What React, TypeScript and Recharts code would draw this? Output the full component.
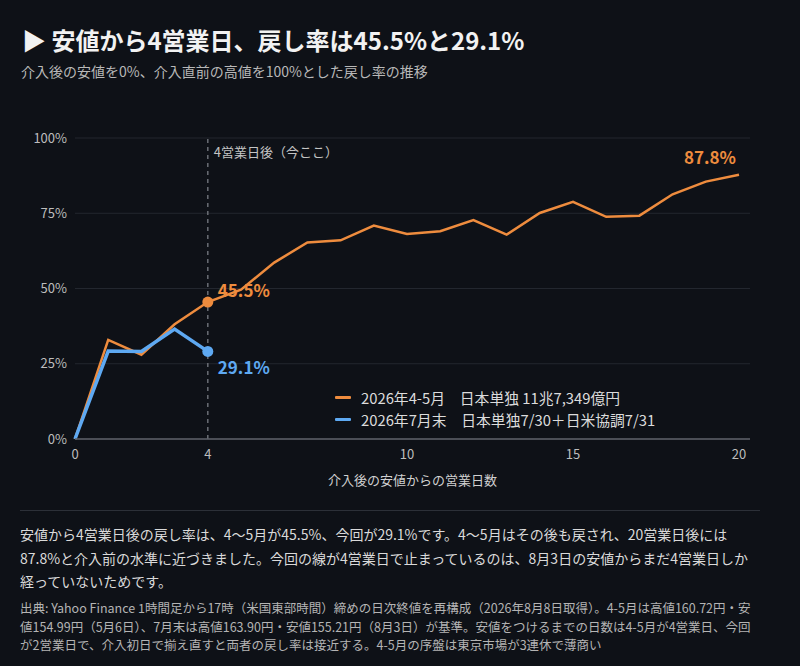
import React from 'react';
import {
  LineChart,
  Line,
  XAxis,
  YAxis,
  CartesianGrid,
  ReferenceLine,
  Legend,
  LabelList,
} from 'recharts';

// Business days since the post-intervention low
const days = [0, 1, 2, 3, 4, 5, 6, 7, 8, 9, 10, 11, 12, 13, 14, 15, 16, 17, 18, 19, 20];
// Retracement ratio (%), April-May 2026 intervention
const aprMay = [0, 32.9, 28.0, 38.1, 45.5, 49.6, 58.6, 65.3, 66.0, 70.9, 68.1, 69.0, 72.7, 67.9, 75.1, 78.8, 73.8, 74.2, 81.3, 85.5, 87.8];
// Retracement ratio (%), end of July 2026 intervention (only 4 days so far)
const julyEnd = [0, 29.2, 29.1, 36.5, 29.1];

const xTicks = [0, 4, 10, 15, 20];
const yTicks = [0, 25, 50, 75, 100];

const seriesNames = ['2026年4-5月　日本単独 11兆7,349億円', '2026年7月末　日本単独7/30＋日米協調7/31'];

const BG = '#0e1117';
const ORANGE = '#ee8c3e';
const BLUE = '#5ea9f2';
const FONT = "'Noto Sans CJK JP', 'Noto Sans', sans-serif";

const data = days.map((d, i) => ({
  day: d,
  aprMay: aprMay[i],
  julyEnd: i < julyEnd.length ? julyEnd[i] : null,
}));

function makeDot(color: string, r: number) {
  return (props: any) => {
    const { cx, cy, index, value } = props;
    if (index !== 4 || value == null || cx == null) return <g key={`e-${index}`} />;
    return <circle key={`d-${index}`} cx={cx} cy={cy} r={r} fill={color} stroke="none" />;
  };
}

function makeLabel(color: string, showAt: number[], below: boolean) {
  return (props: any) => {
    const { x, y, index, value } = props;
    if (!showAt.includes(index) || value == null) return null;
    const last = index === days.length - 1;
    return (
      <text
        x={last ? x - 3 : x + 10}
        y={last ? y - 18 : below ? y + 15 : y - 13}
        fill={color}
        fontSize={17}
        fontWeight={700}
        textAnchor={last ? 'end' : 'start'}
        dominantBaseline="central"
        fontFamily={FONT}
      >
        {`${Number(value).toFixed(1)}%`}
      </text>
    );
  };
}

function LegendBox(props: any) {
  const items = props.payload || [];
  return (
    <div style={{ fontFamily: FONT, fontSize: 14.8, color: '#dcdcdc', whiteSpace: 'nowrap' }}>
      {items.map((it: any) => (
        <div key={it.value} style={{ display: 'flex', alignItems: 'center', height: 22 }}>
          <span
            style={{ display: 'inline-block', width: 16, height: 3, background: it.color, borderRadius: 1, marginRight: 10 }}
          />
          <span>{it.value}</span>
        </div>
      ))}
    </div>
  );
}

export default function App() {
  return (
    <div style={{ position: 'relative', width: 800, height: 666, background: BG, fontFamily: FONT, overflow: 'hidden' }}>
      <style>{'body{margin:0;background:' + BG + '}'}</style>
      <div style={{ position: 'absolute', left: 22, top: 22, fontSize: 24, fontWeight: 700, color: '#f2f2f2', whiteSpace: 'nowrap' }}>
        ▶ 安値から4営業日、戻し率は45.5%と29.1%
      </div>
      <div style={{ position: 'absolute', left: 21, top: 61, fontSize: 14, color: '#b8b8b8', whiteSpace: 'nowrap' }}>
        介入後の安値を0%、介入直前の高値を100%とした戻し率の推移
      </div>

      <div style={{ position: 'absolute', left: 0, top: 0 }}>
        <LineChart width={800} height={500} data={data} margin={{ top: 138, right: 50, bottom: 11, left: 20 }}>
          <CartesianGrid vertical={false} stroke="#23272f" strokeWidth={1} />
          <XAxis
            dataKey="day"
            type="number"
            domain={[0, 20]}
            ticks={xTicks}
            padding={{ left: 0, right: 11 }}
            height={50}
            tickLine={false}
            tickMargin={5}
            axisLine={{ stroke: '#5c6068', strokeWidth: 1.5 }}
            tick={{ fontSize: 13, fill: '#bdbdbd', fontFamily: FONT }}
            label={{ value: '介入後の安値からの営業日数', position: 'insideBottom', offset: 4, fill: '#d0d0d0', fontSize: 13, fontFamily: FONT }}
          />
          <YAxis
            domain={[0, 100]}
            ticks={yTicks}
            width={55}
            tickLine={false}
            axisLine={false}
            tickFormatter={(v) => `${v}%`}
            tick={{ fontSize: 13, fill: '#bdbdbd', fontFamily: FONT }}
          />
          <ReferenceLine
            x={4}
            stroke="#6a6e75"
            strokeDasharray="4 4"
            strokeWidth={1.5}
            label={(p: any) => (
              <text
                x={p.viewBox.x + 6}
                y={p.viewBox.y + 13}
                fill="#c4c4c4"
                fontSize={13}
                fontFamily={FONT}
                dominantBaseline="central"
              >
                4営業日後（今ここ）
              </text>
            )}
          />
          <Legend
            layout="vertical"
            align="center"
            verticalAlign="middle"
            content={<LegendBox />}
            wrapperStyle={{ left: 335, top: 386, width: 'auto' }}
          />
          <Line
            dataKey="aprMay"
            name={seriesNames[0]}
            type="linear"
            stroke={ORANGE}
            strokeWidth={2.5}
            dot={makeDot(ORANGE, 5.5)}
            activeDot={false}
            isAnimationActive={false}
          >
            <LabelList dataKey="aprMay" content={makeLabel(ORANGE, [4, 20], false)} />
          </Line>
          <Line
            dataKey="julyEnd"
            name={seriesNames[1]}
            type="linear"
            stroke={BLUE}
            strokeWidth={3.5}
            dot={makeDot(BLUE, 5.5)}
            activeDot={false}
            connectNulls={false}
            isAnimationActive={false}
          >
            <LabelList dataKey="julyEnd" content={makeLabel(BLUE, [4], true)} />
          </Line>
        </LineChart>
      </div>

      <div style={{ position: 'absolute', left: 20, top: 510, width: 740, height: 1, background: '#2c3038' }} />
      <div style={{ position: 'absolute', left: 20, top: 523, fontSize: 14, lineHeight: '23.5px', color: '#dadada', whiteSpace: 'nowrap' }}>
        安値から4営業日後の戻し率は、4〜5月が45.5%、今回が29.1%です。4〜5月はその後も戻され、20営業日後には
        <br />
        87.8%と介入前の水準に近づきました。今回の線が4営業日で止まっているのは、8月3日の安値からまだ4営業日しか
        <br />
        経っていないためです。
      </div>
      <div style={{ position: 'absolute', left: 20, top: 599, fontSize: 12.5, lineHeight: '18.5px', color: '#b4b4b4', whiteSpace: 'nowrap' }}>
        出典: Yahoo Finance 1時間足から17時（米国東部時間）締めの日次終値を再構成（2026年8月8日取得）。4-5月は高値160.72円・安
        <br />
        値154.99円（5月6日）、7月末は高値163.90円・安値155.21円（8月3日）が基準。安値をつけるまでの日数は4-5月が4営業日、今回
        <br />
        が2営業日で、介入初日で揃え直すと両者の戻し率は接近する。4-5月の序盤は東京市場が3連休で薄商い
      </div>
    </div>
  );
}
